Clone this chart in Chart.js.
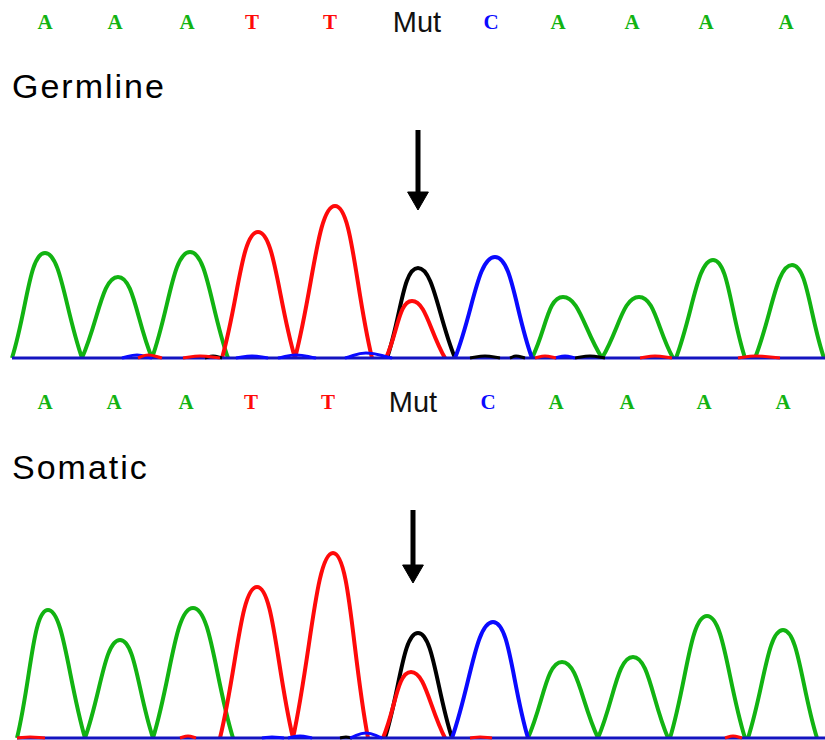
<!DOCTYPE html>
<html>
<head>
<meta charset="utf-8">
<script src="https://cdn.jsdelivr.net/npm/chart.js@4.4.1/dist/chart.umd.min.js"></script>
<style>
  html, body { margin: 0; padding: 0; background: #ffffff; }
  body { width: 825px; height: 740px; position: relative; overflow: hidden; }
  canvas { position: absolute; left: 0; }
  #c1 { top: 100px; }
  #c2 { top: 480px; }
  .base { position: absolute; transform: translateX(-50%); white-space: nowrap;
          font-family: "Liberation Serif", "DejaVu Serif", serif; font-weight: bold;
          font-size: 21px; line-height: 24px; height: 24px; }
  .base.mut { font-family: "Liberation Sans", Arial, sans-serif; font-weight: normal;
              font-size: 29px; line-height: 32px; height: 32px; color: #111; }
  .title { position: absolute; left: 12px; font-family: "Liberation Sans", Arial, sans-serif;
           font-size: 34px; letter-spacing: 2px; color: #000; line-height: 40px; }
</style>
</head>
<body>
<div id="labels"></div>
<div class="title" style="top:66px">Germline</div>
<div class="title" style="top:447px">Somatic</div>
<canvas id="c1" width="825" height="260"></canvas>
<canvas id="c2" width="825" height="260"></canvas>
<script>
// ---- base calls ----
const baseCalls = ['A', 'A', 'A', 'T', 'T', 'Mut', 'C', 'A', 'A', 'A', 'A'];
const germlineCallX = [45, 115, 187, 252, 330, 417, 491, 558, 632, 706, 786];
const somaticCallX  = [45, 114, 186, 251, 328, 413, 488, 556, 627, 704, 783];

// ---- Germline trace peaks: [start, apex, end, height] ----
const germGreen = [[12, 45, 82, 105], [82, 118, 152, 81], [152, 190, 228, 106],
                   [532, 563, 602, 61], [602, 639, 673, 61], [676, 713, 745, 98], [755, 792, 824, 93]];
const germRed   = [[222, 258, 295, 126], [295, 335, 372, 152], [386, 412, 445, 57]];
const germBlack = [[387, 418, 455, 90]];
const germBlue  = [[455, 495, 532, 101]];
const germBlipRed   = [[138, 148, 162, 3], [183, 200, 220, 2], [535, 545, 556, 2], [640, 655, 672, 2], [738, 755, 780, 2]];
const germBlipBlue  = [[122, 137, 152, 3], [236, 252, 268, 2], [278, 296, 316, 3], [345, 366, 392, 5], [555, 565, 575, 2]];
const germBlipBlack = [[205, 213, 222, 2], [470, 485, 500, 2], [510, 516, 525, 2], [575, 590, 605, 2]];
const germArrow = { x: 418, top: 228, tip: 160 };

// ---- Somatic trace peaks: [start, apex, end, height] ----
const somGreen = [[17, 48, 85, 128], [85, 120, 153, 98], [153, 193, 233, 130],
                  [528, 562, 598, 76], [598, 633, 668, 81], [670, 707, 745, 122], [748, 783, 817, 108]];
const somRed   = [[220, 257, 293, 151], [293, 333, 368, 185], [383, 411, 445, 66]];
const somBlack = [[385, 418, 452, 105]];
const somBlue  = [[452, 493, 528, 116]];
const somBlipRed   = [[17, 30, 45, 1], [180, 188, 196, 2], [470, 480, 492, 1], [725, 733, 742, 2]];
const somBlipBlue  = [[262, 272, 284, 1], [288, 300, 312, 2], [350, 366, 382, 5]];
const somBlipBlack = [[340, 346, 352, 1]];
const somArrow = { x: 413, top: 228, tip: 167 };

const baselineStart = [12, 17];

// ---- colours ----
const GREEN = '#12b312', RED = '#ff0a0a', BLUE = '#0a0aff', BLACK = '#000000', NAVY = '#1414c0';

// labels
function addLabels(xs, centerY) {
  const host = document.getElementById('labels');
  baseCalls.forEach((b, i) => {
    const s = document.createElement('div');
    s.textContent = b;
    s.className = 'base' + (b === 'Mut' ? ' mut' : '');
    const h = b === 'Mut' ? 32 : 24;
    s.style.left = xs[i] + 'px';
    s.style.top = (centerY - h / 2) + 'px';
    s.style.color = b === 'A' ? GREEN : b === 'T' ? RED : b === 'C' ? BLUE : '#111';
    host.appendChild(s);
  });
}
addLabels(germlineCallX, 22);
addLabels(somaticCallX, 402);

function tracePoints(peaks) {
  const pts = [];
  peaks.forEach(([s, a, e, h]) => {
    pts.push({ x: s, y: 0 }, { x: a, y: h }, { x: e, y: 0 }, { x: e, y: null });
  });
  return pts;
}

function trace(peaks, color, order, width) {
  return {
    data: tracePoints(peaks), borderColor: color, borderWidth: width, tension: 0.45,
    pointRadius: 0, spanGaps: false, order: order, clip: false, fill: false
  };
}

function buildPanel(id, green, red, black, blue, bRed, bBlue, bBlack, arrow, base0) {
  const datasets = [
    { data: [{ x: arrow.x, y: arrow.top }, { x: arrow.x, y: arrow.tip + 6 }], borderColor: BLACK,
      borderWidth: 5, pointRadius: 0, tension: 0, order: 0, clip: false },
    { data: [{ x: arrow.x, y: arrow.tip }], showLine: false, pointStyle: 'triangle', rotation: 180,
      pointRadius: 12, pointBackgroundColor: BLACK, pointBorderColor: BLACK, pointBorderWidth: 1,
      order: 0, clip: false },
    trace(bRed, RED, 1, 3),
    trace(bBlue, BLUE, 1, 3),
    trace(bBlack, BLACK, 1, 3),
    { data: [{ x: base0, y: 0 }, { x: 825, y: 0 }], borderColor: NAVY, borderWidth: 3,
      pointRadius: 0, tension: 0, order: 2, clip: false },
    trace(red, RED, 3, 4),
    trace(blue, BLUE, 4, 4),
    trace(black, BLACK, 5, 4),
    trace(green, GREEN, 6, 4)
  ];
  new Chart(document.getElementById(id), {
    type: 'line',
    data: { datasets },
    options: {
      responsive: false, animation: false, events: [],
      layout: { padding: 0, autoPadding: false },
      plugins: { legend: { display: false }, tooltip: { enabled: false }, title: { display: false } },
      scales: {
        x: { type: 'linear', min: 0, max: 825, display: false },
        y: { min: -2, max: 258, display: false }
      }
    }
  });
}

buildPanel('c1', germGreen, germRed, germBlack, germBlue, germBlipRed, germBlipBlue, germBlipBlack, germArrow, baselineStart[0]);
buildPanel('c2', somGreen, somRed, somBlack, somBlue, somBlipRed, somBlipBlue, somBlipBlack, somArrow, baselineStart[1]);
</script>
</body>
</html>
